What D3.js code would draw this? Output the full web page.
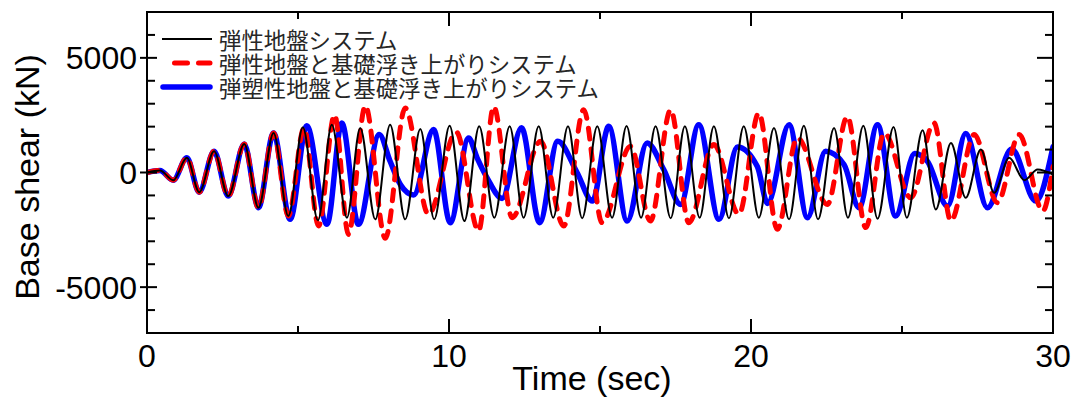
<!DOCTYPE html>
<html>
<head>
<meta charset="utf-8">
<script src="https://cdn.jsdelivr.net/npm/d3@7"></script>
<style>
  html, body { margin: 0; padding: 0; background: #fff; }
  svg { display: block; }
  .tick-label { font-family: "Liberation Sans", Arial, sans-serif; font-size: 32px; fill: #000; }
  .axis-title { font-family: "Liberation Sans", Arial, sans-serif; font-size: 34px; fill: #000; }
  .legend-text { font-family: "Noto Sans CJK JP", "Noto Sans CJK SC", sans-serif; font-size: 22.4px; fill: #262626; }
</style>
</head>
<body>
<svg id="chart" width="1080" height="401"></svg>
<script>
// Base shear time histories: [time (sec), shear (kN)] at peaks and troughs
const elasticSystem = [
  [0,0],[0.43,87],[0.87,-335],[1.32,640],[1.73,-857],[2.22,926],[2.69,-1030],[3.22,1248],
  [3.69,-1535],[4.19,1726],[4.68,-1900],[5.16,1970],[5.66,-2087],[6.12,2087],[6.62,-1970],
  [7.06,1943],[7.56,-2043],[8.05,2087],[8.55,-2043],[9.05,1900],[9.51,-2043],[10.02,2043],
  [10.51,-2117],[11.00,2013],[11.50,-1970],[12.01,2013],[12.47,-1970],[12.97,2013],[13.45,-1970],
  [13.94,2013],[14.41,-1990],[14.91,2013],[15.40,-1970],[15.88,2030],[16.36,-1970],[16.84,2013],
  [17.34,-1990],[17.81,2013],[18.30,-1970],[18.77,2013],[19.27,-1990],[19.76,2013],[20.26,-1970],
  [20.76,1943],[21.26,-2043],[21.75,2043],[22.22,-2043],[22.75,1943],[23.21,-1970],[23.72,2043],
  [24.19,-2013],[24.72,1987],[25.16,-1970],[25.68,1839],[26.12,-1609],[26.62,1291],[27.11,-1100],
  [27.61,1000],[28.05,-883],[28.55,639],[29.05,-335],[29.49,130],[30,-87]
];

const upliftSystem = [
  [0,0],[0.43,87],[0.87,-335],[1.32,640],[1.73,-857],[2.22,926],[2.69,-1030],[3.22,1248],
  [3.69,-1535],[4.19,1726],[4.68,-1900],[5.20,1943],[5.68,-2335],[6.21,2522],[6.67,-2696],
  [7.23,2913],[7.89,-2870],[8.55,2813],[9.32,-1826],[10.24,1770],[10.98,-2552],[11.48,2883],
  [12.09,-1970],[13.03,1361],[13.80,-2335],[14.46,2739],[15.07,-2187],[16.01,1143],[16.67,-2117],
  [17.34,2739],[17.94,-2187],[18.77,1217],[19.60,-1826],[20.26,2596],[20.87,-2478],[21.53,1509],
  [22.53,-1391],[23.19,2448],[23.80,-2404],[24.41,1726],[25.29,-1100],[26.06,2161],[26.62,-2117],
  [27.39,1652],[28.16,-1317],[28.88,1652],[29.66,-1683],[30,260]
];

const plasticUpliftSystem = [
  [0,0],[0.43,87],[0.87,-335],[1.32,640],[1.73,-857],[2.22,926],[2.69,-1030],[3.22,1248],
  [3.69,-1535],[4.19,1726],[4.74,-2043],[5.29,2043],[5.96,-2261],[6.45,2161],[7.00,-2261],
  [7.69,1652],[8.05,491],[8.39,-522],[8.83,-978],[9.49,1870],[10.04,-2187],[10.65,1500],
  [10.93,639],[11.26,-230],[11.76,-1130],[12.40,1957],[13.00,-2187],[13.60,1361],[14.24,0],
  [14.75,-1248],[15.29,2013],[15.90,-2117],[16.56,1291],[17.11,130],[17.67,-1391],[18.27,2087],
  [18.94,-2043],[19.55,1117],[20.21,261],[20.55,-1348],[21.26,2087],[21.87,-1970],[22.47,926],
  [23.08,348],[23.58,-1535],[24.19,2087],[24.79,-1900],[25.42,826],[25.84,491],[26.51,-1465],
  [27.11,1696],[27.83,-1535],[28.63,1030],[29.43,-1248],[30,1117]
];

const legendLabels = ["弾性地盤システム", "弾性地盤と基礎浮き上がりシステム", "弾塑性地盤と基礎浮き上がりシステム"];
const xTickValues = [0, 5, 10, 15, 20, 25, 30];
const xTickLabels = ["0", "10", "20", "30"];
const yTickValues = [-6000, -5000, -4000, -3000, -2000, -1000, 0, 1000, 2000, 3000, 4000, 5000, 6000];
const yTickLabels = ["-5000", "0", "5000"];

const svg = d3.select("#chart");
const plotLeft = 147, plotRight = 1053, plotTop = 12, plotBottom = 333;

const x = d3.scaleLinear().domain([0, 30]).range([plotLeft, plotRight]);
const y = d3.scaleLinear().domain([-7000, 7000]).range([plotBottom, plotTop]);

svg.append("defs").append("clipPath").attr("id", "plot-clip")
  .append("rect").attr("x", plotLeft).attr("y", plotTop)
  .attr("width", plotRight - plotLeft).attr("height", plotBottom - plotTop);

const line = d3.line().x(d => x(d[0])).y(d => y(d[1])).curve(d3.curveMonotoneX);

const plot = svg.append("g").attr("clip-path", "url(#plot-clip)");

const seriesStyles = [
  { data: plasticUpliftSystem, color: "#0000ff", width: 5.5, dash: null, cap: "round" },
  { data: upliftSystem, color: "#ff0000", width: 5, dash: "11,10", cap: "round" },
  { data: elasticSystem, color: "#000000", width: 2, dash: null, cap: "butt" }
];

seriesStyles.forEach(s => {
  plot.append("path")
    .datum(s.data)
    .attr("d", line)
    .attr("fill", "none")
    .attr("stroke", s.color)
    .attr("stroke-width", s.width)
    .attr("stroke-linejoin", "round")
    .attr("stroke-linecap", s.cap)
    .attr("stroke-dasharray", s.dash);
});

// Frame
svg.append("rect")
  .attr("x", plotLeft).attr("y", plotTop)
  .attr("width", plotRight - plotLeft).attr("height", plotBottom - plotTop)
  .attr("fill", "none").attr("stroke", "#000").attr("stroke-width", 2);

// X ticks (inward, top and bottom)
const xt = svg.append("g");
xTickValues.forEach(v => {
  const len = v % 10 === 0 ? 14 : 7;
  xt.append("line").attr("x1", x(v)).attr("x2", x(v)).attr("y1", plotBottom).attr("y2", plotBottom - len)
    .attr("stroke", "#000").attr("stroke-width", 2);
  xt.append("line").attr("x1", x(v)).attr("x2", x(v)).attr("y1", plotTop).attr("y2", plotTop + len)
    .attr("stroke", "#000").attr("stroke-width", 2);
});
xTickLabels.forEach(lbl => {
  svg.append("text").attr("class", "tick-label")
    .attr("x", x(+lbl)).attr("y", 367)
    .attr("text-anchor", "middle").text(lbl);
});

// Y ticks (inward, left and right)
const yt = svg.append("g");
yTickValues.forEach(v => {
  const major = v % 5000 === 0;
  const len = major ? 16 : 8;
  yt.append("line").attr("x1", major ? plotLeft - 7 : plotLeft).attr("x2", plotLeft + (major ? 10 : 8))
    .attr("y1", y(v)).attr("y2", y(v)).attr("stroke", "#000").attr("stroke-width", 2);
  yt.append("line").attr("x1", plotRight).attr("x2", plotRight - len)
    .attr("y1", y(v)).attr("y2", y(v)).attr("stroke", "#000").attr("stroke-width", 2);
});
yTickLabels.forEach(lbl => {
  svg.append("text").attr("class", "tick-label")
    .attr("x", 137).attr("y", y(+lbl) + 11.5)
    .attr("text-anchor", "end").text(lbl);
});

// Axis titles
svg.append("text").attr("class", "axis-title")
  .attr("x", 592).attr("y", 390).attr("text-anchor", "middle").text("Time (sec)");
svg.append("text").attr("class", "axis-title")
  .attr("transform", "translate(39,177) rotate(-90)")
  .attr("text-anchor", "middle").text("Base shear (kN)");

// Legend
const legendRows = [
  { label: legendLabels[0], color: "#000000", width: 2, dash: null, x1: 162, x2: 212, cap: "butt" },
  { label: legendLabels[1], color: "#ff0000", width: 5, dash: "13,11", x1: 174.5, x2: 210, cap: "round" },
  { label: legendLabels[2], color: "#0000ff", width: 5.5, dash: null, x1: 163, x2: 210, cap: "round" }
];
const legendY = [39, 63, 87];
const legend = svg.append("g");
legendRows.forEach((r, i) => {
  legend.append("line")
    .attr("x1", r.x1).attr("x2", r.x2).attr("y1", legendY[i]).attr("y2", legendY[i])
    .attr("stroke", r.color).attr("stroke-width", r.width)
    .attr("stroke-linecap", r.cap).attr("stroke-dasharray", r.dash);
  legend.append("text").attr("class", "legend-text")
    .attr("x", 219).attr("y", legendY[i]).attr("dominant-baseline", "central")
    .text(r.label);
});
</script>
</body>
</html>
